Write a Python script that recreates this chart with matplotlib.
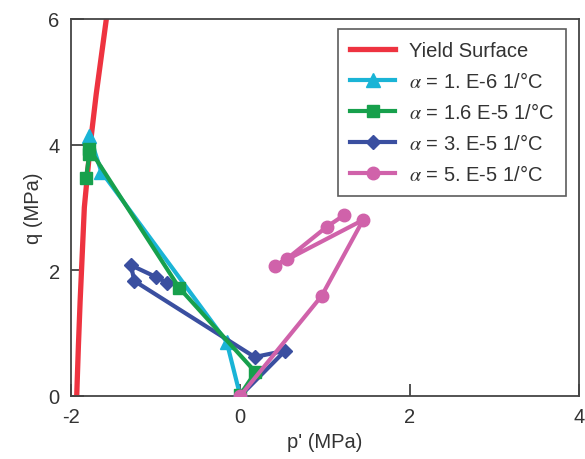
import matplotlib
matplotlib.use("Agg")
import matplotlib.pyplot as plt

plt.rcParams["font.family"] = ["Liberation Sans", "DejaVu Sans"]
plt.rcParams["mathtext.fontset"] = "stix"
plt.rcParams["axes.unicode_minus"] = False

# ===============================
# Dados
# ===============================
yield_p = [-1.93, -1.91, -1.89, -1.84, -1.77, -1.70, -1.62, -1.58]
yield_q = [0.0, 0.8, 1.5, 3.0, 4.0, 4.8, 5.6, 6.0]

a1_p = [0.0, -0.16, -1.64, -1.78]
a1_q = [0.0, 0.86, 3.57, 4.14]

a2_p = [-1.82, -1.78, -1.78, -0.72, 0.18, 0.0]
a2_q = [3.47, 3.85, 3.93, 1.72, 0.38, 0.02]

a3_p = [0.0, 0.53, 0.17, -1.25, -1.29, -0.99, -0.86]
a3_q = [0.0, 0.72, 0.62, 1.83, 2.08, 1.89, 1.80]

a5_p = [0.0, 0.96, 1.45, 0.41, 0.55, 1.02, 1.23]
a5_q = [0.0, 1.59, 2.80, 2.07, 2.18, 2.69, 2.88]

# ===============================
# Gráfico
# ===============================
fig = plt.figure(figsize=(5.85, 4.6), dpi=100)
ax = fig.add_axes([0.121, 0.137, 0.869, 0.82])

ax.plot(yield_p, yield_q, color="#ee3340", linewidth=3.8,
        label="Yield Surface", zorder=2)
ax.plot(a1_p, a1_q, color="#1ab4d6", linewidth=3, marker="^",
        markersize=10, label=r"$\alpha$ = 1. E-6 1/°C", zorder=3)
ax.plot(a2_p, a2_q, color="#17a04c", linewidth=3, marker="s",
        markersize=9, label=r"$\alpha$ = 1.6 E-5 1/°C", zorder=4)
ax.plot(a3_p, a3_q, color="#3a4fa0", linewidth=3, marker="D",
        markersize=7.5, label=r"$\alpha$ = 3. E-5 1/°C", zorder=3)
ax.plot(a5_p, a5_q, color="#d062aa", linewidth=3, marker="o",
        markersize=9, label=r"$\alpha$ = 5. E-5 1/°C", zorder=5)

ax.set_xlim(-2, 4)
ax.set_ylim(0, 6)
ax.set_xticks([-2, 0, 2, 4])
ax.set_yticks([0, 2, 4, 6])
ax.tick_params(direction="in", length=9, width=1.2, labelsize=14.5,
               colors="#333333", pad=8)
for s in ax.spines.values():
    s.set_color("#444444")
    s.set_linewidth(1.3)

ax.set_xlabel("p' (MPa)", fontsize=14.5, color="#333333", labelpad=4)
ax.set_ylabel("q (MPa)", fontsize=14.5, color="#333333", labelpad=4)

leg = ax.legend(loc="upper right", bbox_to_anchor=(0.974, 0.973),
                borderaxespad=0, fontsize=14.5, frameon=True,
                fancybox=False, handlelength=2.2, borderpad=0.6,
                labelspacing=0.55, handletextpad=0.7)
leg.get_frame().set_edgecolor("#333333")
leg.get_frame().set_linewidth(1.2)
for t in leg.get_texts():
    t.set_color("#333333")

fig.savefig("out.png", dpi=100)
